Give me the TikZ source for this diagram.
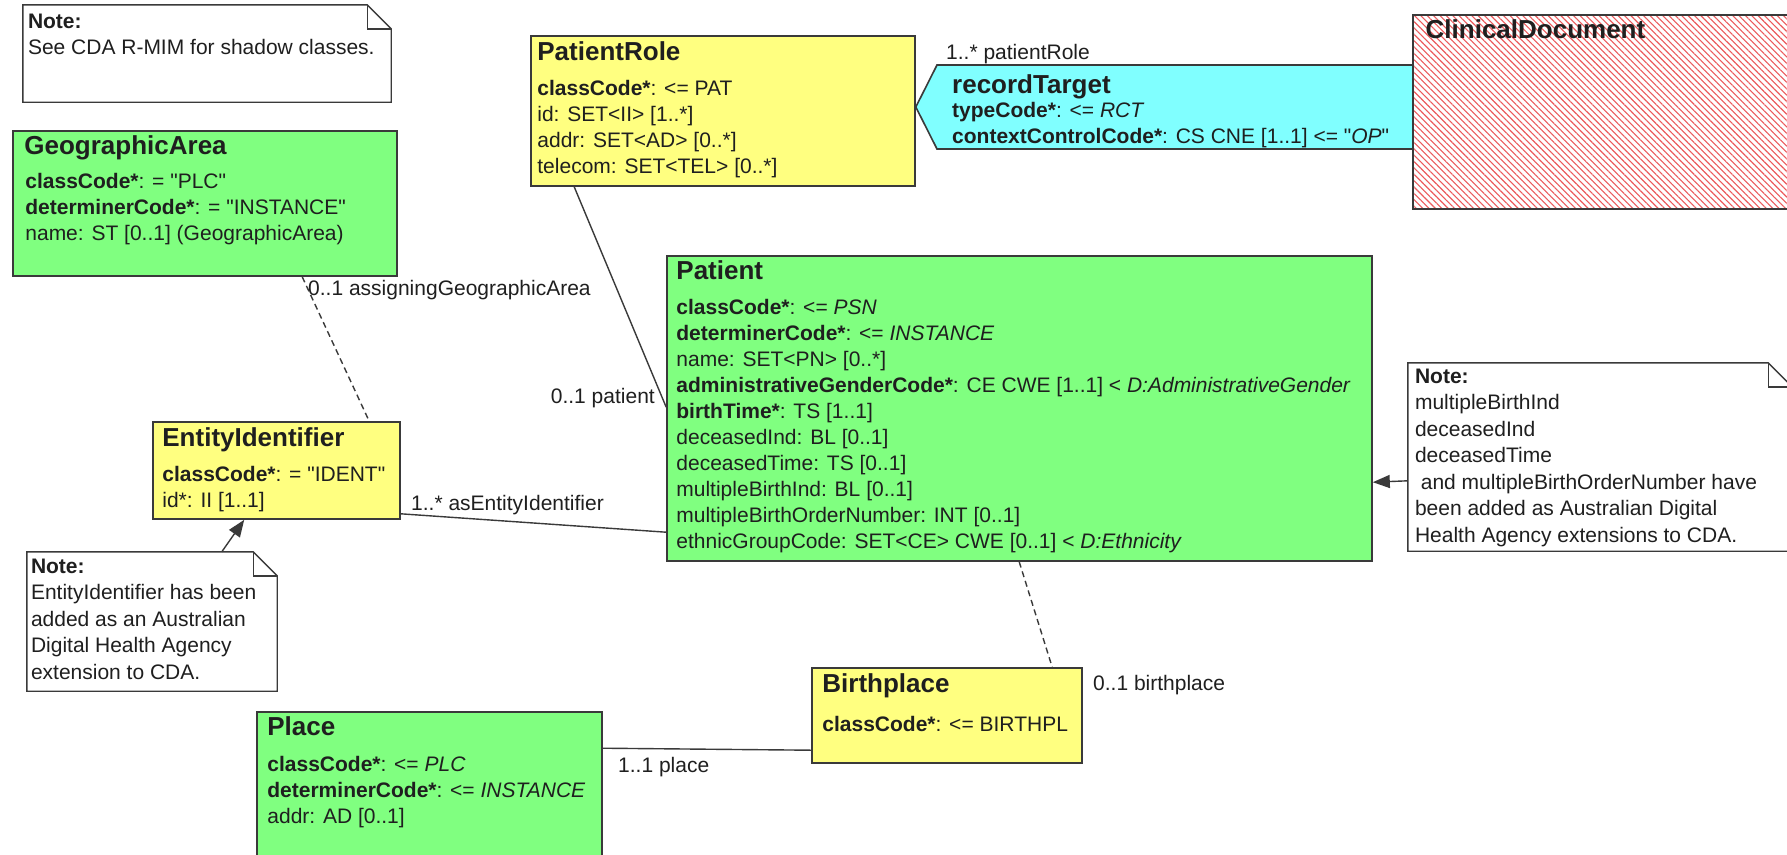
\documentclass[tikz,border=0pt]{standalone}
\usepackage{fontspec}
\setmainfont{Liberation Sans}
\usetikzlibrary{arrows.meta,fit,patterns.meta}

\definecolor{rimgreen}{HTML}{80FF80}
\definecolor{rimyellow}{HTML}{FFFF80}
\definecolor{rimcyan}{HTML}{80FFFF}
\definecolor{rimline}{HTML}{3A3A3A}
\definecolor{rimhatch}{HTML}{EC5A5C}

\newcommand{\qt}[1]{\textquotedbl#1\textquotedbl}

\begin{document}
\begin{tikzpicture}[x=1pt, y=-1pt,
  every node/.style={inner sep=0pt, text=black!88},
  clsbox/.style={draw=rimline, line width=1.6pt},
  greencls/.style={clsbox, fill=rimgreen},
  yellowcls/.style={clsbox, fill=rimyellow},
  clstitle/.style={anchor=north west, font=\fontsize{26}{30}\selectfont\bfseries, execute at begin node=\strut},
  clsattr/.style={anchor=north west, align=left, font=\fontsize{21}{26}\selectfont, execute at begin node=\strut},
  notetext/.style={clsattr, font=\fontsize{21}{26.5}\selectfont},
  noteline/.style={draw=rimline, line width=1.4pt},
  assoc/.style={draw=rimline, line width=1.4pt},
  shadowlink/.style={assoc, dash pattern=on 6pt off 4pt},
  notelink/.style={assoc, -{Triangle[length=17pt, width=13pt]}},
  lbl/.style={anchor=base west, font=\fontsize{21}{26}\selectfont}
]
\useasboundingbox (0,0) rectangle (1787,854);
\clip (0,0) rectangle (1787,854);
\fill[white] (0,0) rectangle (1787,854);

% notes
\node[fit={(23,5) (391,102)}] (note1) {};
\draw[noteline, fill=white] (note1.north west) -- ([shift={(-24,0)}]note1.north east) -- ([shift={(0,24)}]note1.north east) -- (note1.south east) -- (note1.south west) -- cycle;
\draw[noteline] ([shift={(-24,0)}]note1.north east) |- ([shift={(0,24)}]note1.north east);
\node[notetext] (note1-txt) at ([shift={(5,9)}]note1.north west) {\textbf{Note:}\\See CDA R-MIM for shadow classes.};

\node[fit={(27,552) (277,691)}] (note2) {};
\draw[noteline, fill=white] (note2.north west) -- ([shift={(-24,0)}]note2.north east) -- ([shift={(0,24)}]note2.north east) -- (note2.south east) -- (note2.south west) -- cycle;
\draw[noteline] ([shift={(-24,0)}]note2.north east) |- ([shift={(0,24)}]note2.north east);
\node[notetext] (note2-txt) at ([shift={(4,7)}]note2.north west) {\textbf{Note:}\\EntityIdentifier has been\\added as an Australian\\Digital Health Agency\\extension to CDA.};

\node[fit={(1408,363) (1792,551)}] (note3) {};
\draw[noteline, fill=white] (note3.north west) -- ([shift={(-24,0)}]note3.north east) -- ([shift={(0,24)}]note3.north east) -- (note3.south east) -- (note3.south west) -- cycle;
\draw[noteline] ([shift={(-24,0)}]note3.north east) |- ([shift={(0,24)}]note3.north east);
\node[notetext] (note3-txt) at ([shift={(7,6)}]note3.north west) {\textbf{Note:}\\multipleBirthInd\\deceasedInd\\deceasedTime\\\ and multipleBirthOrderNumber have\\been added as Australian Digital\\Health Agency extensions to CDA.};

% classes
\node[greencls, fit={(13,131) (397,276)}] (geoarea) {};
\node[clstitle] (geoarea-t) at ([shift={(12,3)}]geoarea.north west) {GeographicArea};
\node[clsattr] (geoarea-a) at ([shift={(13,43)}]geoarea.north west) {\textbf{classCode*}: = \qt{PLC}\\\textbf{determinerCode*}: = \qt{INSTANCE}\\name: ST [0..1] (GeographicArea)};

\node[yellowcls, fit={(531,36) (915,186)}] (patrole) {};
\node[clstitle] (patrole-t) at ([shift={(7,4)}]patrole.north west) {PatientRole};
\node[clsattr] (patrole-a) at ([shift={(7,45)}]patrole.north west) {\textbf{classCode*}: <= PAT\\id: SET<II> [1..*]\\addr: SET<AD> [0..*]\\telecom: SET<TEL> [0..*]};

\draw[clsbox, fill=rimcyan] ([shift={(0,-4)}]patrole.east) -- (937,65) -- (1413,65) -- (1413,149) -- (937,149) -- cycle;
\node[clstitle] (rectarget-t) at (952,72) {recordTarget};
\node[clsattr] (rectarget-a) at (952,102) {\textbf{typeCode*}: <= \textit{RCT}\\\textbf{contextControlCode*}: CS CNE [1..1] <= \qt{\textit{OP}}};

\node[clsbox, fit={(1413,15) (1795,209)}, preaction={fill=white}, pattern={Lines[angle=-45, distance=4.5pt, line width=1.1pt]}, pattern color=rimhatch] (clindoc) {};
\node[clstitle] (clindoc-t) at ([shift={(13,3)}]clindoc.north west) {ClinicalDocument};

\node[greencls, fit={(667,256) (1372,561)}] (patient) {};
\node[clstitle] (patient-t) at ([shift={(10,3)}]patient.north west) {Patient};
\node[clsattr] (patient-a) at ([shift={(10,44)}]patient.north west) {\textbf{classCode*}: <= \textit{PSN}\\
  \textbf{determinerCode*}: <= \textit{INSTANCE}\\
  name: SET<PN> [0..*]\\
  \textbf{administrativeGenderCode*}: CE CWE [1..1] < \textit{D:AdministrativeGender}\\
  \textbf{birthTime*}: TS [1..1]\\
  deceasedInd: BL [0..1]\\
  deceasedTime: TS [0..1]\\
  multipleBirthInd: BL [0..1]\\
  multipleBirthOrderNumber: INT [0..1]\\
  ethnicGroupCode: SET<CE> CWE [0..1] < \textit{D:Ethnicity}};

\node[yellowcls, fit={(153,422) (400,519)}] (entid) {};
\node[clstitle] (entid-t) at ([shift={(10,4)}]entid.north west) {EntityIdentifier};
\node[clsattr] (entid-a) at ([shift={(10,45)}]entid.north west) {\textbf{classCode*}: = \qt{IDENT}\\id*: II [1..1]};

\node[yellowcls, fit={(812,668) (1082,763)}] (birthpl) {};
\node[clstitle] (birthpl-t) at ([shift={(11,4)}]birthpl.north west) {Birthplace};
\node[clsattr] (birthpl-a) at ([shift={(11,46)}]birthpl.north west) {\textbf{classCode*}: <= BIRTHPL};

\node[greencls, fit={(257,712) (602,864)}] (place) {};
\node[clstitle] (place-t) at ([shift={(11,3)}]place.north west) {Place};
\node[clsattr] (place-a) at ([shift={(11,45)}]place.north west) {\textbf{classCode*}: <= \textit{PLC}\\\textbf{determinerCode*}: <= \textit{INSTANCE}\\addr: AD [0..1]};

% associations
\draw[assoc] ([shift={(44,0)}]patrole.south west) -- ([shift={(0,152)}]patient.north west);
\draw[shadowlink] ([shift={(290,0)}]geoarea.south west) -- ([shift={(217,0)}]entid.north west);
\draw[assoc] ([shift={(0,-6)}]entid.south east) -- ([shift={(0,277)}]patient.north west);
\draw[shadowlink] ([shift={(353,0)}]patient.south west) -- ([shift={(241,0)}]birthpl.north west);
\draw[assoc] ([shift={(0,37)}]place.north east) -- ([shift={(0,83)}]birthpl.north west);
\draw[notelink] ([shift={(0,118)}]note3.north west) -- ([shift={(0,227)}]patient.north east);
\draw[notelink] ([shift={(195,0)}]note2.north west) -- ([shift={(92,0)}]entid.south west);

% role names
\node[lbl] (lbl-patrole) at (946,59.5) {1..* patientRole};
\node[lbl] (lbl-geoarea) at (308,295) {0..1 assigningGeographicArea};
\node[lbl, anchor=base east] (lbl-patient) at (655,403) {0..1 patient};
\node[lbl] (lbl-entid) at (411,510) {1..* asEntityIdentifier};
\node[lbl] (lbl-birthpl) at (1093,690) {0..1 birthplace};
\node[lbl] (lbl-place) at (618,772) {1..1 place};
\end{tikzpicture}
\end{document}
